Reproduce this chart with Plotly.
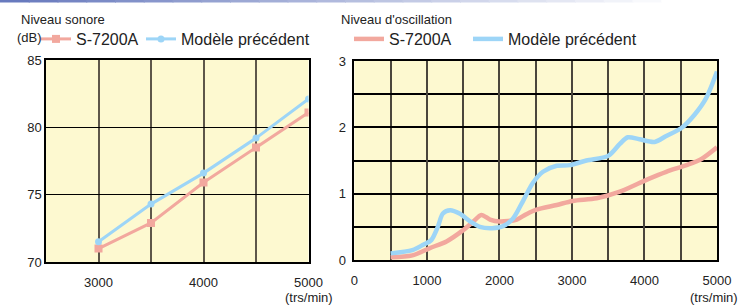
import plotly.graph_objects as go

W, H = 740, 306

# ---- Left chart: noise level (dB) ----
rpm_noise = [3000, 3500, 4000, 4500, 5000]
noise_s7200a = [71.0, 72.9, 75.9, 78.5, 81.1]
noise_prev = [71.5, 74.3, 76.6, 79.2, 82.1]

# ---- Right chart: oscillation level ----
rpm_osc_s7200a = [500, 800, 1040, 1270, 1500, 1640, 1750, 1870, 2000, 2240, 2370, 2510,
                  2790, 3010, 3340, 3660, 4050, 4300, 4580, 4780, 5000]
osc_s7200a = [0.04, 0.07, 0.18, 0.28, 0.45, 0.58, 0.68, 0.61, 0.58, 0.61, 0.69, 0.76,
              0.83, 0.89, 0.93, 1.03, 1.22, 1.33, 1.43, 1.52, 1.70]
rpm_osc_prev = [500, 800, 950, 1060, 1150, 1220, 1320, 1450, 1600, 1730, 1900, 2050, 2190,
                2330, 2460, 2600, 2790, 2970, 3200, 3500, 3660, 3770, 3930, 4140, 4300,
                4510, 4690, 4850, 5000]
osc_prev = [0.10, 0.15, 0.23, 0.30, 0.50, 0.70, 0.75, 0.70, 0.58, 0.50, 0.48, 0.51, 0.63,
            0.90, 1.16, 1.33, 1.42, 1.43, 1.50, 1.57, 1.75, 1.85, 1.82, 1.78, 1.87,
            1.99, 2.19, 2.44, 2.84]

left_xticks = [3000, 4000, 5000]
left_yticks = [70, 75, 80, 85]
right_xticks = [0, 1000, 2000, 3000, 4000, 5000]
right_yticks = [0, 1, 2, 3]

PINK = "#f2a89e"
BLUE = "#9dd5f7"
BG = "#fdf9d0"
FONT = "Liberation Sans, Arial, sans-serif"

def px(v):
    return v / W

def py(v):
    return 1 - v / H

fig = go.Figure()

fig.add_trace(go.Scatter(x=rpm_noise, y=noise_s7200a, name="S-7200A", mode="lines+markers",
                         line=dict(color=PINK, width=3),
                         marker=dict(symbol="square", size=8, color=PINK),
                         xaxis="x", yaxis="y", legend="legend"))
fig.add_trace(go.Scatter(x=rpm_noise, y=noise_prev, name="Modèle précédent", mode="lines+markers",
                         line=dict(color=BLUE, width=3),
                         marker=dict(symbol="circle", size=7, color=BLUE),
                         xaxis="x", yaxis="y", legend="legend2"))
fig.add_trace(go.Scatter(x=rpm_osc_s7200a, y=osc_s7200a, name="S-7200A", mode="lines",
                         line=dict(color=PINK, width=4.5, shape="spline", smoothing=0.8),
                         xaxis="x2", yaxis="y2", legend="legend3"))
fig.add_trace(go.Scatter(x=rpm_osc_prev, y=osc_prev, name="Modèle précédent", mode="lines",
                         line=dict(color=BLUE, width=4.5, shape="spline", smoothing=0.8),
                         xaxis="x2", yaxis="y2", legend="legend4"))

axis_common = dict(showline=True, linecolor="black", linewidth=1.5, mirror=True,
                   ticks="", tickfont=dict(size=13, color="#222"), zeroline=False,
                   automargin=False, fixedrange=True)

for xr, yr in [("x", "y"), ("x2", "y2")]:
    fig.add_shape(type="rect", xref=f"{xr} domain", yref=f"{yr} domain", x0=0, x1=1, y0=0, y1=1,
                  fillcolor=BG, line=dict(width=0), layer="below")

fig.update_layout(
    width=W, height=H,
    margin=dict(l=0, r=0, t=0, b=0),
    paper_bgcolor="white",
    plot_bgcolor="rgba(0,0,0,0)",
    font=dict(family=FONT, color="#222"),
    xaxis=dict(domain=[px(46), px(308.5)], range=[2500, 5000], tickmode="array",
               tickvals=left_xticks, ticktext=[str(v) for v in left_xticks],
               showgrid=True, gridcolor="#5e574a", gridwidth=2, anchor="y",
               ticklabelstandoff=8,
               minor=dict(tickvals=[3500, 4500], showgrid=True, gridcolor="#5e574a", gridwidth=2),
               **axis_common),
    yaxis=dict(domain=[py(262), py(60)], range=[70, 85], tickmode="array", tickvals=left_yticks,
               showgrid=True, gridcolor="black", gridwidth=1, anchor="x", **axis_common),
    xaxis2=dict(domain=[px(354.4), px(717)], range=[0, 5000], tickmode="array",
                tickvals=right_xticks, ticktext=[str(v) for v in right_xticks],
                showgrid=True, gridcolor="#4a463c", gridwidth=2, anchor="y2",
                ticklabelstandoff=8,
                minor=dict(tickvals=[500, 1500, 2500, 3500, 4500], showgrid=True,
                           gridcolor="#4a463c", gridwidth=2),
                **axis_common),
    yaxis2=dict(domain=[py(260), py(61)], range=[0, 3], tickmode="array",
                tickvals=right_yticks, ticktext=[str(v) for v in right_yticks],
                showgrid=True, gridcolor="black", gridwidth=1.5, anchor="x2",
                ticklabelstandoff=4,
                minor=dict(tickvals=[0.5, 1.5, 2.5], showgrid=True, gridcolor="black", gridwidth=1.5),
                **axis_common),
    showlegend=True,
)

leg_common = dict(orientation="h", font=dict(size=16, family=FONT, color="#222"),
                  bgcolor="rgba(0,0,0,0)", borderwidth=0, yanchor="middle",
                  xanchor="left", tracegroupgap=0, itemclick=False, itemdoubleclick=False)
fig.update_layout(
    legend=dict(x=px(36), y=py(39), **leg_common),
    legend2=dict(x=px(141), y=py(39), **leg_common),
    legend3=dict(x=px(349), y=py(39), **leg_common),
    legend4=dict(x=px(468), y=py(39), **leg_common),
)

fig.add_annotation(text="Niveau sonore", x=px(19), y=py(19), xref="paper", yref="paper",
                   xanchor="left", yanchor="middle", showarrow=False, font=dict(size=13))
fig.add_annotation(text="(dB)", x=px(15), y=py(37), xref="paper", yref="paper",
                   xanchor="left", yanchor="middle", showarrow=False, font=dict(size=13))
fig.add_annotation(text="Niveau d'oscillation", x=px(339), y=py(19), xref="paper", yref="paper",
                   xanchor="left", yanchor="middle", showarrow=False, font=dict(size=13))
fig.add_annotation(text="(trs/min)", x=5000, y=py(297), xref="x", yref="paper",
                   xanchor="center", yanchor="middle", showarrow=False, font=dict(size=13))
fig.add_annotation(text="(trs/min)", x=5000, y=py(297), xref="x2", yref="paper",
                   xanchor="center", yanchor="middle", showarrow=False, font=dict(size=13),
                   xshift=-3)

start = (104, 122, 190)
n = 24
for i in range(n):
    f = i / (n - 1)
    c = tuple(int(s + (255 - s) * f) for s in start)
    fig.add_shape(type="rect", xref="paper", yref="paper",
                  x0=px(690 * i / n), x1=px(690 * (i + 1) / n + 1), y0=py(2.5), y1=1,
                  fillcolor=f"rgb{c}", line=dict(width=0), layer="above")

fig.write_html("out.html", config={"displayModeBar": False},
               post_script="document.body.style.margin='0px';document.body.style.padding='0px';")
